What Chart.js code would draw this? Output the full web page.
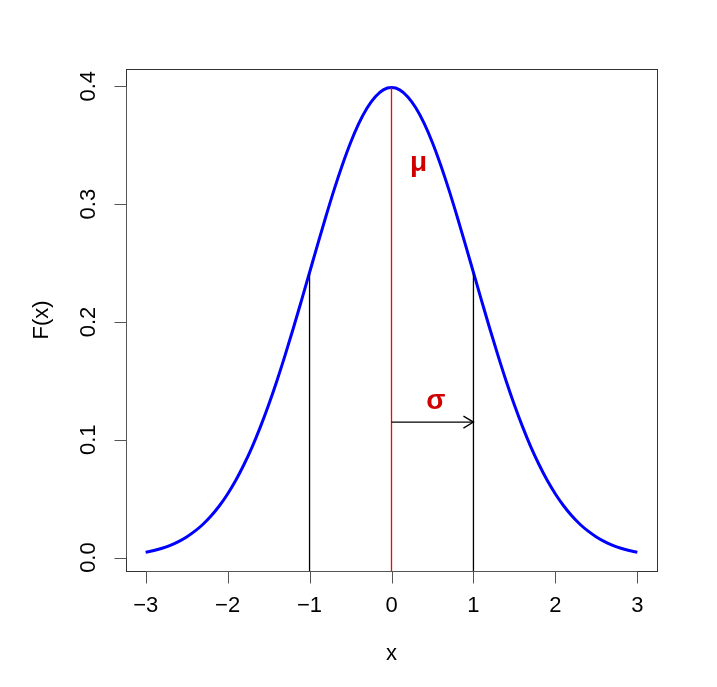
<!DOCTYPE html>
<html>
<head>
<meta charset="utf-8">
<script src="https://cdn.jsdelivr.net/npm/chart.js@4"></script>
<style>
  html, body { margin: 0; padding: 0; background: #fff; }
  #wrap { width: 717px; height: 687px; }
</style>
</head>
<body>
<div id="wrap"><canvas id="densityChart" width="717" height="687"></canvas></div>
<script>
// valeurs
const xValues = [
  -3.0, -2.9, -2.8, -2.7, -2.6, -2.5, -2.4, -2.3, -2.2, -2.1,
  -2.0, -1.9, -1.8, -1.7, -1.6, -1.5, -1.4, -1.3, -1.2, -1.1,
  -1.0, -0.9, -0.8, -0.7, -0.6, -0.5, -0.4, -0.3, -0.2, -0.1,
  0.0,
  0.1, 0.2, 0.3, 0.4, 0.5, 0.6, 0.7, 0.8, 0.9, 1.0,
  1.1, 1.2, 1.3, 1.4, 1.5, 1.6, 1.7, 1.8, 1.9, 2.0,
  2.1, 2.2, 2.3, 2.4, 2.5, 2.6, 2.7, 2.8, 2.9, 3.0
];
const densityValues = [
  0.0044, 0.0060, 0.0079, 0.0104, 0.0136, 0.0175, 0.0224, 0.0283, 0.0355, 0.0440,
  0.0540, 0.0656, 0.0790, 0.0940, 0.1109, 0.1295, 0.1497, 0.1714, 0.1942, 0.2179,
  0.2420, 0.2661, 0.2897, 0.3123, 0.3332, 0.3521, 0.3683, 0.3814, 0.3910, 0.3970,
  0.3989,
  0.3970, 0.3910, 0.3814, 0.3683, 0.3521, 0.3332, 0.3123, 0.2897, 0.2661, 0.2420,
  0.2179, 0.1942, 0.1714, 0.1497, 0.1295, 0.1109, 0.0940, 0.0790, 0.0656, 0.0540,
  0.0440, 0.0355, 0.0283, 0.0224, 0.0175, 0.0136, 0.0104, 0.0079, 0.0060, 0.0044
];

const xTicks = [-3, -2, -1, 0, 1, 2, 3];
const xTickLabels = ["\u22123", "\u22122", "\u22121", "0", "1", "2", "3"];
const yTicks = [0, 0.1, 0.2, 0.3, 0.4];
const yTickLabels = ["0.0", "0.1", "0.2", "0.3", "0.4"];

// lignes verticales : mu et +/- sigma
const guideX = [-1, 0, 1];
const guideTop = [0.2420, 0.3989, 0.2420];
const guideColors = ["#000000", "#ff0000", "#000000"];

// fleche sigma
const arrowX = [0, 1];
const arrowY = 0.115;

// etiquettes
const noteText = ["\u03bc", "\u03c3"];
const noteX = [0.33, 0.54];
const noteY = [0.335, 0.133];

const xMin = -3.24, xMax = 3.24;
const yMin = -0.0114, yMax = 0.4147;

const FONT = '"Liberation Sans", Arial, Helvetica, sans-serif';

const datasets = [{
  label: "F(x)",
  data: xValues.map((x, i) => ({ x: x, y: densityValues[i] })),
  borderColor: "#0000ff",
  borderWidth: 3,
  pointRadius: 0,
  cubicInterpolationMode: "monotone",
  order: 2
}];

guideX.forEach((gx, i) => {
  datasets.push({
    label: "guide" + i,
    data: [{ x: gx, y: yMin }, { x: gx, y: guideTop[i] }],
    borderColor: guideColors[i],
    borderWidth: 1.3,
    pointRadius: 0,
    clip: false,
    order: 1
  });
});

datasets.push({
  label: "sigma",
  data: [{ x: arrowX[0], y: arrowY }, { x: arrowX[1], y: arrowY }],
  borderColor: "#000000",
  borderWidth: 1.3,
  pointRadius: 0,
  order: 0
});

const rAxes = {
  id: "rAxes",
  afterDraw(chart) {
    const c = chart.ctx;
    const a = chart.chartArea;
    const sx = chart.scales.x, sy = chart.scales.y;
    c.save();

    // cadre
    c.strokeStyle = "#333";
    c.lineWidth = 1;
    c.strokeRect(Math.round(a.left) + 0.5, Math.round(a.top) + 0.5,
      Math.round(a.right - a.left), Math.round(a.bottom - a.top));

    // axe x
    const yb = Math.round(a.bottom) + 0.5;
    c.strokeStyle = "#555";
    c.beginPath();
    c.moveTo(sx.getPixelForValue(xTicks[0]), yb);
    c.lineTo(sx.getPixelForValue(xTicks[xTicks.length - 1]), yb);
    xTicks.forEach(t => {
      const px = Math.round(sx.getPixelForValue(t)) + 0.5;
      c.moveTo(px, yb);
      c.lineTo(px, yb + 12);
    });
    c.stroke();

    c.fillStyle = "#000";
    c.font = "22px " + FONT;
    c.textAlign = "center";
    c.textBaseline = "middle";
    xTicks.forEach((t, i) => {
      c.fillText(xTickLabels[i], sx.getPixelForValue(t), 606);
    });

    // axe y
    const xl = Math.round(a.left) + 0.5;
    c.beginPath();
    c.moveTo(xl, sy.getPixelForValue(yTicks[0]));
    c.lineTo(xl, sy.getPixelForValue(yTicks[yTicks.length - 1]));
    yTicks.forEach(t => {
      const py = Math.round(sy.getPixelForValue(t)) + 0.5;
      c.moveTo(xl, py);
      c.lineTo(xl - 12, py);
    });
    c.stroke();

    yTicks.forEach((t, i) => {
      c.save();
      c.translate(89, sy.getPixelForValue(t));
      c.rotate(-Math.PI / 2);
      c.fillText(yTickLabels[i], 0, 0);
      c.restore();
    });

    // titres
    c.fillText("x", (a.left + a.right) / 2, 654);
    c.save();
    c.translate(42, (a.top + a.bottom) / 2);
    c.rotate(-Math.PI / 2);
    c.fillText("F(x)", 0, 0);
    c.restore();

    // tete de fleche
    const hx = sx.getPixelForValue(arrowX[1]);
    const hy = sy.getPixelForValue(arrowY);
    c.strokeStyle = "#000";
    c.lineWidth = 1.3;
    c.beginPath();
    c.moveTo(hx - 10, hy - 6);
    c.lineTo(hx, hy);
    c.lineTo(hx - 10, hy + 6);
    c.stroke();

    // mu, sigma
    c.fillStyle = "#d00000";
    c.font = "bold 28px " + FONT;
    noteText.forEach((s, i) => {
      c.fillText(s, sx.getPixelForValue(noteX[i]), sy.getPixelForValue(noteY[i]));
    });

    c.restore();
  }
};

const ctx = document.getElementById("densityChart").getContext("2d");
const densityChart = new Chart(ctx, {
  type: "line",
  data: { datasets: datasets },
  options: {
    responsive: false,
    animation: false,
    layout: { padding: { left: 126, right: 60, top: 69, bottom: 116 } },
    plugins: { legend: { display: false }, tooltip: { enabled: false } },
    scales: {
      x: { type: "linear", min: xMin, max: xMax, display: false },
      y: { type: "linear", min: yMin, max: yMax, display: false }
    }
  },
  plugins: [rAxes]
});
</script>
</body>
</html>
